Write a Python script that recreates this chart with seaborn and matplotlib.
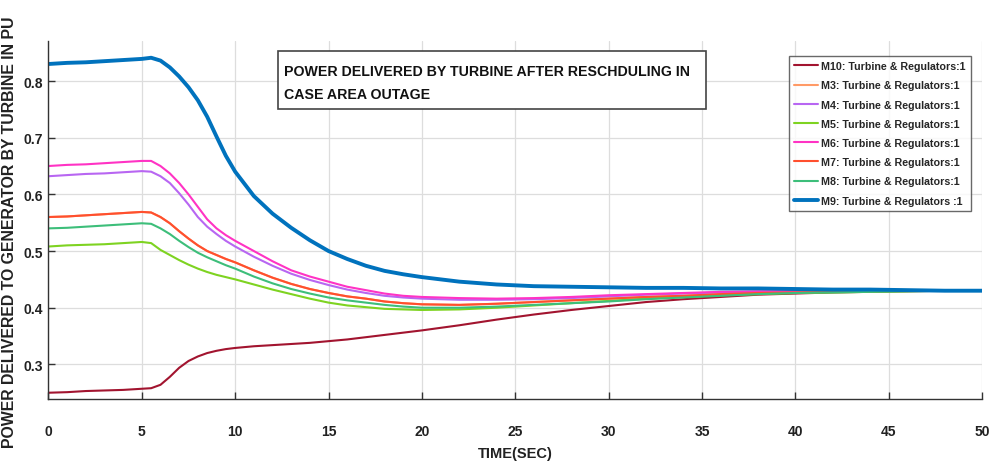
import numpy as np
import pandas as pd
import matplotlib
matplotlib.use("Agg")
import matplotlib.pyplot as plt
import seaborn as sns
from matplotlib import font_manager
from matplotlib.patches import Rectangle

# ── Data ──────────────────────────────────────────────────────────────────────

time_s = [0, 1, 2, 3, 4, 5, 5.5, 6, 6.5, 7, 7.5, 8, 8.5, 9, 9.5, 10,
          11, 12, 13, 14, 15, 16, 17, 18, 19, 20, 22, 24, 26, 28, 30,
          32, 34, 36, 38, 40, 42, 44, 46, 48, 50]

m10 = [0.250, 0.251, 0.253, 0.254, 0.255, 0.257, 0.258, 0.264, 0.278, 0.294, 0.306,
       0.314, 0.320, 0.324, 0.327, 0.329, 0.332, 0.334, 0.336, 0.338, 0.341,
       0.344, 0.348, 0.352, 0.356, 0.360, 0.369, 0.379, 0.388, 0.396, 0.403,
       0.410, 0.415, 0.419, 0.423, 0.425, 0.427, 0.428, 0.429, 0.430, 0.430]

m3 = [0.560, 0.561, 0.563, 0.565, 0.567, 0.569, 0.568, 0.560, 0.549, 0.535, 0.522,
      0.510, 0.500, 0.493, 0.486, 0.480, 0.466, 0.453, 0.442, 0.433, 0.426,
      0.420, 0.416, 0.411, 0.408, 0.406, 0.405, 0.407, 0.410, 0.413, 0.416,
      0.419, 0.421, 0.424, 0.426, 0.427, 0.428, 0.429, 0.430, 0.430, 0.430]

m4 = [0.632, 0.634, 0.636, 0.637, 0.639, 0.641, 0.640, 0.632, 0.620, 0.602, 0.582,
      0.560, 0.543, 0.530, 0.518, 0.508, 0.490, 0.474, 0.460, 0.449, 0.440,
      0.432, 0.426, 0.421, 0.418, 0.416, 0.414, 0.414, 0.415, 0.417, 0.420,
      0.423, 0.425, 0.427, 0.428, 0.429, 0.430, 0.430, 0.430, 0.430, 0.430]

m5 = [0.508, 0.510, 0.511, 0.512, 0.514, 0.516, 0.514, 0.502, 0.493, 0.484, 0.476,
      0.469, 0.463, 0.458, 0.454, 0.450, 0.441, 0.432, 0.424, 0.416, 0.409,
      0.404, 0.401, 0.398, 0.397, 0.396, 0.397, 0.400, 0.404, 0.408, 0.412,
      0.416, 0.419, 0.422, 0.424, 0.426, 0.427, 0.428, 0.429, 0.430, 0.430]

m6 = [0.650, 0.652, 0.653, 0.655, 0.657, 0.659, 0.659, 0.650, 0.637, 0.620, 0.600,
      0.578, 0.556, 0.540, 0.528, 0.518, 0.500, 0.482, 0.466, 0.455, 0.446,
      0.437, 0.431, 0.425, 0.421, 0.419, 0.417, 0.416, 0.417, 0.419, 0.422,
      0.424, 0.426, 0.428, 0.429, 0.429, 0.430, 0.430, 0.430, 0.430, 0.430]

m7 = [0.560, 0.561, 0.563, 0.565, 0.567, 0.569, 0.568, 0.560, 0.549, 0.535, 0.522,
      0.510, 0.500, 0.493, 0.486, 0.480, 0.466, 0.453, 0.442, 0.433, 0.426,
      0.420, 0.416, 0.411, 0.408, 0.406, 0.405, 0.407, 0.410, 0.413, 0.416,
      0.419, 0.421, 0.424, 0.426, 0.427, 0.428, 0.429, 0.430, 0.430, 0.430]

m8 = [0.540, 0.541, 0.543, 0.545, 0.547, 0.549, 0.548, 0.540, 0.530, 0.518, 0.507,
      0.497, 0.489, 0.482, 0.475, 0.469, 0.455, 0.443, 0.433, 0.425, 0.418,
      0.413, 0.409, 0.405, 0.402, 0.400, 0.400, 0.402, 0.405, 0.408, 0.411,
      0.415, 0.418, 0.421, 0.424, 0.426, 0.427, 0.428, 0.429, 0.430, 0.430]

m9 = [0.830, 0.832, 0.833, 0.835, 0.837, 0.839, 0.841, 0.836, 0.824, 0.808, 0.789,
      0.766, 0.737, 0.702, 0.668, 0.640, 0.597, 0.566, 0.541, 0.519, 0.500,
      0.486, 0.474, 0.465, 0.459, 0.454, 0.446, 0.441, 0.438, 0.437, 0.436,
      0.435, 0.435, 0.434, 0.434, 0.433, 0.432, 0.432, 0.431, 0.430, 0.430]

series_labels = ["M10: Turbine & Regulators:1", "M3: Turbine & Regulators:1",
                 "M4: Turbine & Regulators:1", "M5: Turbine & Regulators:1",
                 "M6: Turbine & Regulators:1", "M7: Turbine & Regulators:1",
                 "M8: Turbine & Regulators:1", "M9: Turbine & Regulators :1"]
series_values = [m10, m3, m4, m5, m6, m7, m8, m9]
series_colors = ["#A2142F", "#FF9A66", "#B866F2", "#7ED321",
                 "#FF33C4", "#FF4F2E", "#3DBE7A", "#0072BD"]
series_widths = [1.5, 1.5, 1.5, 1.5, 1.5, 1.5, 1.5, 2.8]

x_ticks = [0, 5, 10, 15, 20, 25, 30, 35, 40, 45, 50]
y_ticks = [0.3, 0.4, 0.5, 0.6, 0.7, 0.8]

# ── Style ─────────────────────────────────────────────────────────────────────

sns.set_theme(style="whitegrid")
installed = {f.name for f in font_manager.fontManager.ttflist}
narrow = "Liberation Sans Narrow" if "Liberation Sans Narrow" in installed else "Liberation Sans"
plt.rcParams["font.family"] = [narrow, "DejaVu Sans"]

df = pd.DataFrame({
    "t": np.tile(time_s, len(series_labels)),
    "p": np.concatenate(series_values),
    "series": np.repeat(series_labels, len(time_s)),
})

fig = plt.figure(figsize=(9.89, 4.64), dpi=100)
ax = fig.add_axes([0.049, 0.138, 0.944, 0.772])

for label, color, lw in zip(series_labels, series_colors, series_widths):
    sns.lineplot(data=df[df["series"] == label], x="t", y="p", color=color,
                 linewidth=lw, label=label, ax=ax)

ax.set_xlim(0, 50)
ax.set_ylim(0.239, 0.871)
ax.set_xticks(x_ticks)
ax.set_yticks(y_ticks)
ax.set_xticklabels([str(v) for v in x_ticks])
ax.set_yticklabels([f"{v:.1f}" for v in y_ticks])
ax.grid(True, color="#dddddd", linewidth=0.9)
ax.set_facecolor("white")
for side in ["top", "right"]:
    ax.spines[side].set_visible(False)
for side in ["left", "bottom"]:
    ax.spines[side].set_color("#333333")
    ax.spines[side].set_linewidth(1.0)
ax.tick_params(axis="both", direction="in", length=5, width=1, colors="#333333",
               labelsize=10, labelcolor="#222222", left=True, bottom=True)
for lbl in ax.get_xticklabels() + ax.get_yticklabels():
    lbl.set_fontweight("bold")
ax.tick_params(axis="x", pad=18)
ax.tick_params(axis="y", pad=4)

ax.set_xlabel("TIME(SEC)", fontsize=10.5, fontweight="bold", color="#222222", labelpad=6)
ax.set_ylabel("")
fig.text(0.0095, 0.5, "POWER DELIVERED TO GENERATOR BY TURBINE IN PU",
         rotation=90, ha="center", va="center", fontsize=11.4, fontweight="bold",
         color="#222222", family=["Liberation Sans", "DejaVu Sans"])

# title box
ax.add_patch(Rectangle((0.2458, 0.809), 0.4585, 0.162, transform=ax.transAxes,
                       facecolor="white", edgecolor="#444444", linewidth=1.2, zorder=5))
ax.text(0.252, 0.915, "POWER DELIVERED BY TURBINE AFTER RESCHDULING IN",
        transform=ax.transAxes, fontsize=10.2, fontweight="bold", color="#111111",
        va="center", ha="left", zorder=6)
ax.text(0.252, 0.851, "CASE AREA OUTAGE",
        transform=ax.transAxes, fontsize=10.2, fontweight="bold", color="#111111",
        va="center", ha="left", zorder=6)

leg = ax.legend(loc="upper right", bbox_to_anchor=(0.988, 0.958), fontsize=7.7,
                frameon=True, fancybox=False, handlelength=2.2, handletextpad=0.3,
                labelspacing=0.86, borderpad=0.5, borderaxespad=0)
leg.get_frame().set_edgecolor("#444444")
leg.get_frame().set_linewidth(1.0)
for txt in leg.get_texts():
    txt.set_fontweight("bold")
leg.set_zorder(6)

fig.savefig("out.png", dpi=100)
